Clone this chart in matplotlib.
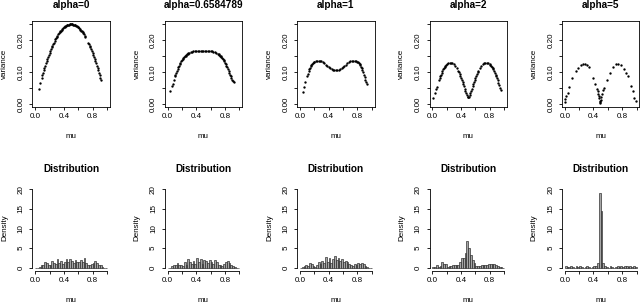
import numpy as np
import matplotlib
matplotlib.use("Agg")
import matplotlib.pyplot as plt

plt.rcParams['font.family'] = ['Liberation Sans', 'DejaVu Sans']

titles = ["alpha=0", "alpha=0.6584789", "alpha=1", "alpha=2", "alpha=5"]

# variance vs mu, one pair of lists per alpha
mu1 = [0.05, 0.07, 0.09, 0.10, 0.11, 0.12, 0.13, 0.14, 0.15, 0.16, 0.17, 0.18, 0.19, 0.20,
       0.21, 0.22, 0.23, 0.24, 0.25, 0.26, 0.27, 0.28, 0.29, 0.30, 0.31, 0.32, 0.33, 0.34,
       0.35, 0.36, 0.37, 0.38, 0.39, 0.40, 0.41, 0.42, 0.43, 0.44, 0.45, 0.46, 0.47, 0.48,
       0.49, 0.50, 0.51, 0.52, 0.53, 0.54, 0.55, 0.56, 0.57, 0.58, 0.59, 0.60, 0.61, 0.62,
       0.63, 0.64, 0.65, 0.66, 0.67, 0.68, 0.69, 0.70, 0.74, 0.75, 0.76, 0.77, 0.78, 0.79,
       0.80, 0.81, 0.82, 0.83, 0.84, 0.85, 0.86, 0.87, 0.88, 0.89, 0.90, 0.91, 0.92]
var1 = [0.048, 0.065, 0.082, 0.090, 0.098, 0.106, 0.113, 0.120, 0.128, 0.134, 0.141, 0.148,
        0.154, 0.160, 0.166, 0.172, 0.177, 0.182, 0.188, 0.192, 0.197, 0.202, 0.206, 0.210,
        0.214, 0.218, 0.221, 0.224, 0.228, 0.230, 0.233, 0.236, 0.238, 0.240, 0.242, 0.244,
        0.245, 0.246, 0.248, 0.248, 0.249, 0.250, 0.250, 0.250, 0.250, 0.250, 0.249, 0.248,
        0.248, 0.246, 0.245, 0.244, 0.242, 0.240, 0.238, 0.236, 0.233, 0.230, 0.228, 0.224,
        0.221, 0.218, 0.214, 0.210, 0.192, 0.188, 0.182, 0.177, 0.172, 0.166, 0.160, 0.154,
        0.148, 0.141, 0.134, 0.128, 0.120, 0.113, 0.106, 0.098, 0.090, 0.082, 0.074]

mu2 = [0.04, 0.06, 0.07, 0.09, 0.10, 0.11, 0.12, 0.13, 0.14, 0.15, 0.16, 0.17, 0.18, 0.19,
       0.20, 0.21, 0.22, 0.23, 0.24, 0.25, 0.26, 0.27, 0.28, 0.29, 0.30, 0.32, 0.34, 0.36,
       0.38, 0.40, 0.42, 0.44, 0.46, 0.48, 0.50, 0.52, 0.54, 0.56, 0.58, 0.60, 0.62, 0.64,
       0.66, 0.68, 0.70, 0.71, 0.72, 0.73, 0.74, 0.75, 0.76, 0.77, 0.78, 0.79, 0.80, 0.81,
       0.82, 0.83, 0.84, 0.85, 0.86, 0.87, 0.88, 0.89, 0.90, 0.91, 0.92]
var2 = [0.040, 0.055, 0.062, 0.076, 0.086, 0.092, 0.098, 0.104, 0.110, 0.115, 0.120, 0.125,
        0.129, 0.133, 0.137, 0.140, 0.143, 0.146, 0.149, 0.151, 0.153, 0.155, 0.157, 0.159,
        0.160, 0.162, 0.164, 0.165, 0.166, 0.166, 0.167, 0.167, 0.167, 0.167, 0.167, 0.167,
        0.167, 0.167, 0.166, 0.166, 0.165, 0.164, 0.162, 0.160, 0.157, 0.155, 0.153, 0.151,
        0.149, 0.146, 0.143, 0.140, 0.137, 0.133, 0.129, 0.125, 0.120, 0.115, 0.110, 0.104,
        0.098, 0.092, 0.086, 0.080, 0.076, 0.072, 0.068]

mu3 = [0.036, 0.058, 0.077, 0.10, 0.11, 0.12, 0.13, 0.14, 0.15, 0.16, 0.17, 0.18, 0.19, 0.20,
       0.22, 0.24, 0.26, 0.28, 0.30, 0.32, 0.34, 0.36, 0.38, 0.40, 0.42, 0.44, 0.46, 0.48,
       0.50, 0.52, 0.54, 0.56, 0.58, 0.60, 0.62, 0.64, 0.66, 0.68, 0.70, 0.72, 0.74, 0.76,
       0.78, 0.80, 0.81, 0.82, 0.83, 0.84, 0.85, 0.86, 0.87, 0.88, 0.89, 0.90, 0.91, 0.92, 0.93]
var3 = [0.038, 0.052, 0.069, 0.087, 0.095, 0.102, 0.108, 0.113, 0.118, 0.122, 0.125, 0.128,
        0.130, 0.132, 0.134, 0.135, 0.135, 0.135, 0.133, 0.131, 0.127, 0.123, 0.119, 0.115,
        0.112, 0.109, 0.107, 0.106, 0.105, 0.106, 0.107, 0.109, 0.112, 0.115, 0.119, 0.123,
        0.127, 0.131, 0.133, 0.135, 0.135, 0.135, 0.134, 0.132, 0.130, 0.128, 0.125, 0.122,
        0.117, 0.112, 0.106, 0.099, 0.092, 0.085, 0.076, 0.068, 0.062]

mu4 = [0.01, 0.03, 0.05, 0.06, 0.09, 0.10, 0.11, 0.12, 0.13, 0.14, 0.15, 0.16, 0.17, 0.18,
       0.19, 0.20, 0.22, 0.24, 0.26, 0.28, 0.30, 0.32, 0.34, 0.36, 0.37, 0.38, 0.39, 0.40,
       0.41, 0.42, 0.43, 0.44, 0.45, 0.46, 0.47, 0.48, 0.49, 0.50, 0.51, 0.52, 0.53, 0.54,
       0.55, 0.56, 0.57, 0.58, 0.59, 0.60, 0.61, 0.62, 0.63, 0.64, 0.66, 0.68, 0.70, 0.72,
       0.74, 0.76, 0.78, 0.80, 0.81, 0.82, 0.83, 0.84, 0.85, 0.86, 0.87, 0.88, 0.89, 0.90,
       0.91, 0.92, 0.93, 0.94, 0.95]
var4 = [0.017, 0.033, 0.045, 0.052, 0.074, 0.080, 0.086, 0.092, 0.098, 0.103, 0.108, 0.112,
        0.116, 0.119, 0.122, 0.124, 0.127, 0.128, 0.128, 0.127, 0.124, 0.119, 0.112, 0.104,
        0.099, 0.094, 0.088, 0.082, 0.076, 0.069, 0.062, 0.055, 0.048, 0.040, 0.033, 0.027,
        0.022, 0.020, 0.022, 0.027, 0.033, 0.040, 0.048, 0.055, 0.062, 0.069, 0.076, 0.082,
        0.088, 0.094, 0.099, 0.104, 0.112, 0.119, 0.124, 0.127, 0.128, 0.128, 0.127, 0.124,
        0.122, 0.119, 0.116, 0.112, 0.108, 0.103, 0.098, 0.092, 0.086, 0.080, 0.074, 0.066,
        0.058, 0.050, 0.043]

mu5 = [0.0, 0.009, 0.023, 0.041, 0.064, 0.10, 0.155, 0.19, 0.224, 0.251, 0.283, 0.315,
       0.343, 0.389, 0.42, 0.45, 0.46, 0.47, 0.475, 0.48, 0.485, 0.49, 0.495, 0.50, 0.51,
       0.52, 0.53, 0.54, 0.59, 0.626, 0.672, 0.71, 0.74, 0.786, 0.832, 0.855, 0.878, 0.923,
       0.946, 0.969, 0.99]
var5 = [0.005, 0.014, 0.024, 0.035, 0.053, 0.080, 0.103, 0.114, 0.121, 0.126, 0.126, 0.122,
        0.116, 0.082, 0.063, 0.048, 0.040, 0.030, 0.024, 0.018, 0.010, 0.004, 0.006, 0.012,
        0.022, 0.032, 0.042, 0.050, 0.074, 0.098, 0.116, 0.124, 0.126, 0.122, 0.108, 0.098,
        0.087, 0.056, 0.040, 0.019, 0.008]

mus = [mu1, mu2, mu3, mu4, mu5]
variances = [var1, var2, var3, var4, var5]

# histogram densities, 40 bins of width 0.025 on [0, 1]
bin_width = 0.025
dens1 = [0, 0, 0.3, 0.6, 0.8, 1.5, 1.2, 0.8, 0.6, 1.7, 1.2, 1.0, 2.2, 1.3, 1.8, 1.0, 1.5, 2.3, 1.4, 2.2,
         1.8, 1.2, 2.0, 1.5, 1.4, 2.0, 1.6, 2.4, 1.2, 0.8, 0.6, 1.1, 1.2, 1.7, 1.3, 0.8, 0.6, 0.3, 0, 0]
dens2 = [0, 0, 0.4, 0.8, 0.6, 1.2, 0.8, 0.6, 0.5, 1.6, 0.7, 2.2, 1.4, 1.0, 1.8, 0.9, 2.4, 1.6, 2.2, 1.0,
         2.0, 1.8, 1.3, 1.9, 1.5, 1.0, 1.9, 1.6, 0.8, 0.7, 0.5, 1.0, 1.4, 1.8, 1.2, 0.8, 0.4, 0.2, 0, 0]
dens3 = [0, 0.2, 0.4, 0.8, 0.5, 1.2, 1.0, 0.4, 0.3, 0.7, 1.4, 1.0, 1.8, 1.2, 2.8, 1.5, 2.4, 1.3, 2.2, 3.0,
         2.0, 2.6, 1.8, 2.2, 1.5, 1.8, 1.6, 0.9, 0.6, 0.5, 1.0, 0.8, 1.2, 1.1, 1.3, 1.0, 0.5, 0.3, 0, 0]
dens4 = [0.2, 0.3, 0.6, 0.3, 0.5, 1.4, 0.9, 1.0, 0.3, 0.4, 0.5, 0.7, 0.6, 0.8, 0.7, 1.5, 2.4, 2.6, 3.8, 6.8,
         5.0, 3.2, 2.0, 1.2, 0.5, 0.4, 0.5, 0.6, 0.8, 0.6, 0.7, 1.0, 0.9, 1.1, 1.0, 0.8, 0.5, 0.3, 0.1, 0]
dens5 = [0.5, 0.3, 0.3, 0.4, 0.3, 0, 0.4, 0.3, 0.5, 0.3, 0, 0.3, 0.5, 0.3, 0, 0.3, 0.4, 0.5, 1.3, 19.0,
         14.5, 1.2, 0.5, 0.3, 0, 0.4, 0.3, 0, 0.3, 0.4, 0.3, 0.5, 0.3, 0.4, 0.5, 0.3, 0.4, 0.3, 0.5, 0.3]
densities = [dens1, dens2, dens3, dens4, dens5]

W, H = 640, 305
fig = plt.figure(figsize=(W / 100, H / 100), dpi=100)

def rect(l, t, w, h):
    return [l / W, 1 - (t + h) / H, w / W, h / H]

lefts = [32.3, 164.7, 297.1, 429.5, 561.9]
pw = 77.5
lab = 5.8

for i in range(5):
    L = lefts[i]
    cx = (L + pw / 2) / W

    # top row: variance against mu
    ax = fig.add_axes(rect(L, 21, pw, 86))
    ax.plot(mus[i], variances[i], 'o', color='black', ms=1.7, mew=0)
    ax.set_xlim(-0.04, 1.04)
    ax.set_ylim(-0.01, 0.26)
    ax.set_xticks([0, 0.2, 0.4, 0.6, 0.8, 1.0])
    ax.set_xticklabels(['0.0', '', '0.4', '', '0.8', ''])
    ax.set_yticks([0, 0.05, 0.1, 0.15, 0.2, 0.25])
    ax.set_yticklabels(['0.00', '', '0.10', '', '0.20', ''], rotation=90, va='center')
    for s in ax.spines.values():
        s.set_linewidth(0.6)
    ax.tick_params(direction='out', length=2.5, width=0.6, labelsize=lab, pad=2)
    ax.tick_params(axis='y', pad=3)
    fig.text(cx, 1 - 5.5 / H, titles[i], ha='center', va='center', fontsize=7.2, fontweight='bold')
    fig.text(cx, 1 - 136 / H, 'mu', ha='center', va='center', fontsize=lab)
    fig.text((L - 27.6) / W, 1 - 64 / H, 'variance', ha='center', va='center', fontsize=lab, rotation=90)

    # bottom row: histogram of mu
    bx = fig.add_axes(rect(L, 186, pw, 85))
    edges = np.arange(len(densities[i])) * bin_width
    bx.bar(edges, densities[i], width=bin_width, align='edge', color='#a6a6a6',
           edgecolor='#222222', linewidth=0.45)
    bx.set_xlim(-0.04, 1.04)
    bx.set_ylim(-0.8, 20.8)
    bx.spines['top'].set_visible(False)
    bx.spines['right'].set_visible(False)
    bx.spines['left'].set_bounds(0, 20)
    bx.spines['bottom'].set_bounds(0, 1)
    for s in ['left', 'bottom']:
        bx.spines[s].set_linewidth(0.6)
    bx.set_xticks([0, 0.2, 0.4, 0.6, 0.8, 1.0])
    bx.set_xticklabels(['0.0', '', '0.4', '', '0.8', ''])
    bx.set_yticks([0, 5, 10, 15, 20])
    bx.set_yticklabels(['0', '5', '10', '15', '20'], rotation=90, va='center')
    bx.tick_params(direction='out', length=2.5, width=0.6, labelsize=lab, pad=2)
    bx.tick_params(axis='y', pad=3)
    fig.text(cx, 1 - 169 / H, 'Distribution', ha='center', va='center', fontsize=7.2, fontweight='bold')
    fig.text(cx, 1 - 301 / H, 'mu', ha='center', va='center', fontsize=lab)
    fig.text((L - 27.6) / W, 1 - 228 / H, 'Density', ha='center', va='center', fontsize=lab, rotation=90)

fig.savefig('out.png', dpi=100)
